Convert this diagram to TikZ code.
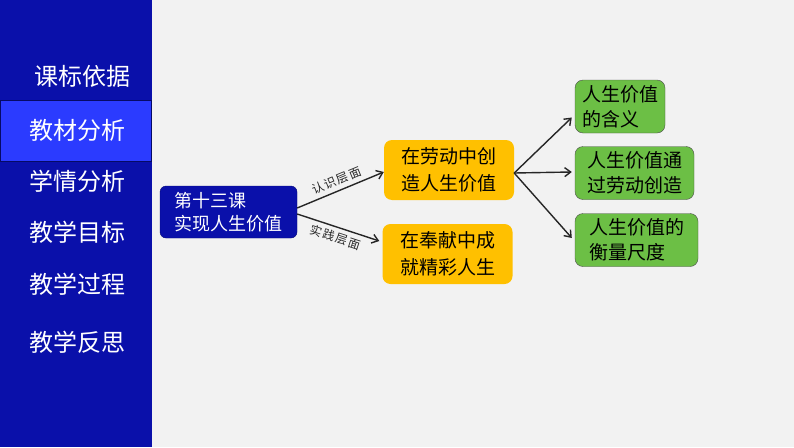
\documentclass[tikz,border=0pt]{standalone}
\usepackage{fontspec}
\usepackage{tikz}
\usetikzlibrary{arrows.meta, positioning}
\newfontfamily\cjk{Noto Sans CJK SC}
\newfontfamily\cjktag[LetterSpace=12]{Noto Sans CJK SC}
\definecolor{navblue}{HTML}{0A10AA}
\definecolor{navlight}{HTML}{2B3BFF}
\definecolor{pagebg}{HTML}{F2F2F2}
\definecolor{goldbox}{HTML}{FFC000}
\definecolor{greenbox}{HTML}{6CBF45}

\begin{document}
\begin{tikzpicture}[
  x=1pt, y=1pt,
  >={Straight Barb[length=6pt, width=9pt]},
  menu/.style={text=white, font=\cjk\fontsize{24}{28}\selectfont},
  lesson/.style={draw=navblue!70!black, fill=navblue, rounded corners=6pt,
    text=white, align=left, minimum width=137pt, minimum height=52pt,
    font=\cjk\fontsize{18}{23}\selectfont, inner sep=4pt},
  goldmod/.style={fill=goldbox, rounded corners=8pt, align=left,
    minimum width=130pt, minimum height=60pt,
    font=\cjk\fontsize{19}{27}\selectfont},
  greenmod/.style={draw=black!70, fill=greenbox, rounded corners=8pt, align=left,
    minimum height=53pt, inner xsep=6pt,
    font=\cjk\fontsize{19}{25}\selectfont},
  link/.style={->, line width=1.4pt, black!85},
  tag/.style={font=\cjktag\fontsize{12}{14}\selectfont, sloped, inner sep=4pt},
]
\useasboundingbox (0,0) rectangle (794,-447);
\fill[pagebg] (0,0) rectangle (794,-447);

% Left menu
\fill[navblue] (0,0) rectangle (152,-447);
\draw[navblue!60!black, fill=navlight] (0,-100) rectangle (151,-161);
\node[menu] (std)   at (82,-76)  {课标依据};
\node[menu] (text)  at (77,-130) {教材分析};
\node[menu] (learn) at (77,-181) {学情分析};
\node[menu] (goal)  at (77,-232) {教学目标};
\node[menu] (proc)  at (77,-284) {教学过程};
\node[menu] (refl)  at (77,-342) {教学反思};

% Lesson
\node[lesson] (lesson) at (228.5,-212) {第十三课\\实现人生价值};

% Two levels
\node[goldmod] (labour) at (449,-170) {在劳动中创\\造人生价值};
\node[goldmod] (devote) at (447.5,-254) {在奉献中成\\就精彩人生};

% Value points
\node[greenmod, minimum width=90pt]  (meaning) at (620,-106.5) {人生价值\\的含义};
\node[greenmod, minimum width=119pt] (create)  at (634.5,-173) {人生价值通\\过劳动创造};
\node[greenmod, minimum width=123pt] (measure) at (636.5,-240) {人生价值的\\衡量尺度};

% Arrows
\draw[link] ([yshift=4pt]lesson.east) -- ([yshift=-2pt]labour.west)
  node[tag, midway, above] {认识层面};
\draw[link] ([yshift=-2pt]lesson.east) -- ([xshift=-3pt, yshift=13pt]devote.west)
  node[tag, midway, below] {实践层面};
\draw[link] ([yshift=-3pt]labour.east) -- ([xshift=-3pt, yshift=-11pt]meaning.west);
\draw[link] ([yshift=-3pt]labour.east) -- ([xshift=-3pt, yshift=1pt]create.west);
\draw[link] ([yshift=-3pt]labour.east) -- ([xshift=-3pt, yshift=2pt]measure.west);

\end{tikzpicture}
\end{document}
